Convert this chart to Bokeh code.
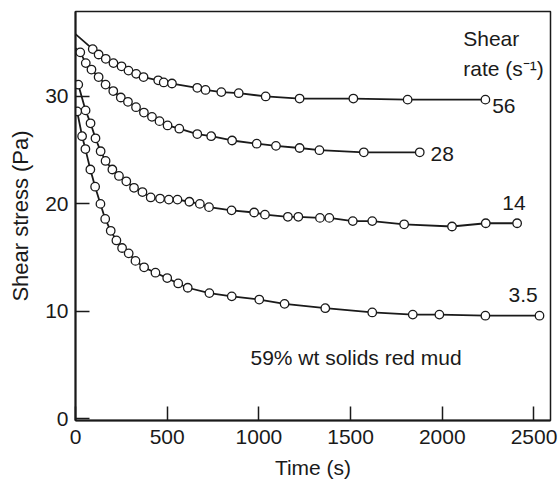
from bokeh.plotting import figure
from bokeh.models import Range1d, FixedTicker, Label
from bokeh.embed import file_html
from bokeh.resources import INLINE

# ---- data (time in s, shear stress in Pa) ----
t_56 = [94, 126, 165, 207, 251, 289, 331, 371, 451, 481, 526, 664, 709, 795, 890, 1037, 1222, 1515, 1811, 2235]
v_56 = [34.4, 33.9, 33.5, 33.1, 32.8, 32.4, 32.1, 31.8, 31.5, 31.3, 31.2, 30.8, 30.6, 30.4, 30.3, 30.0, 29.8, 29.8, 29.7, 29.7]
start_56 = 35.8

t_28 = [26, 56, 87, 126, 164, 206, 247, 286, 330, 373, 417, 458, 502, 566, 664, 740, 854, 988, 1093, 1222, 1330, 1572, 1877]
v_28 = [34.1, 33.1, 32.5, 31.8, 31.1, 30.5, 29.9, 29.5, 29.0, 28.5, 28.1, 27.7, 27.3, 27.0, 26.5, 26.3, 25.9, 25.6, 25.4, 25.2, 25.0, 24.8, 24.8]
start_28 = 34.5

t_14 = [15, 55, 82, 109, 137, 164, 201, 237, 277, 319, 365, 410, 461, 509, 556, 621, 678, 728, 851, 974,
        1033, 1158, 1215, 1333, 1384, 1512, 1618, 1792, 2053, 2237, 2408]
v_14 = [31.1, 28.7, 27.5, 26.1, 24.9, 24.0, 23.2, 22.6, 22.1, 21.5, 21.1, 20.6, 20.5, 20.4, 20.4, 20.2, 20.0, 19.7, 19.4, 19.2,
        19.0, 18.8, 18.8, 18.7, 18.7, 18.4, 18.4, 18.1, 17.9, 18.2, 18.2]

t_35 = [9, 36, 54, 81, 107, 136, 162, 192, 223, 254, 290, 327, 374, 436, 500, 560, 612, 730, 852, 1002,
        1140, 1362, 1618, 1839, 1984, 2235, 2530]
v_35 = [28.6, 26.3, 25.1, 23.2, 21.6, 20.0, 18.6, 17.5, 16.6, 15.9, 15.4, 14.7, 14.1, 13.6, 13.1, 12.6, 12.2, 11.7, 11.4, 11.1,
        10.7, 10.3, 9.9, 9.7, 9.7, 9.6, 9.6]

x_ticks = [0, 500, 1000, 1500, 2000, 2500]
y_ticks = [0, 10, 20, 30]
rate_labels = ["56", "28", "14", "3.5"]

INK = "#1a1a1a"
FONT = "Liberation Sans"

p = figure(width=560, height=489, output_backend="svg", toolbar_location=None,
           x_range=Range1d(0, 2590), y_range=Range1d(-0.15, 37.9),
           min_border_left=75, min_border_right=10, min_border_top=11, min_border_bottom=69)
p.background_fill_color = "white"
p.border_fill_color = "white"
p.outline_line_color = INK
p.outline_line_width = 1.5
p.xgrid.visible = False
p.ygrid.visible = False

p.xaxis.ticker = FixedTicker(ticks=x_ticks)
p.yaxis.ticker = FixedTicker(ticks=y_ticks)
for ax in (p.xaxis, p.yaxis):
    ax.major_tick_in = 14
    ax.major_tick_out = 0
    ax.minor_tick_line_color = None
    ax.axis_line_width = 2
    ax.axis_line_color = INK
    ax.major_tick_line_width = 1.5
    ax.major_tick_line_color = INK
    ax.major_label_text_font = FONT
    ax.major_label_text_font_size = "21px"
    ax.major_label_text_color = INK
    ax.axis_label_text_font = FONT
    ax.axis_label_text_font_style = "normal"
    ax.axis_label_text_color = INK
p.xaxis.major_label_standoff = 9
p.yaxis.major_label_standoff = 7
p.xaxis.axis_label = "Time (s)"
p.yaxis.axis_label = "Shear stress (Pa)"
p.xaxis.axis_label_text_font_size = "21px"
p.yaxis.axis_label_text_font_size = "22px"
p.xaxis.axis_label_standoff = 9
p.yaxis.axis_label_standoff = 9

series = [
    ([0] + t_56, [start_56] + v_56, t_56, v_56),
    ([0] + t_28, [start_28] + v_28, t_28, v_28),
    (t_14, v_14, t_14, v_14),
    (t_35, v_35, t_35, v_35),
]
for lx, ly, mx, my in series:
    p.line(lx, ly, line_color=INK, line_width=1.8)
for lx, ly, mx, my in series:
    p.scatter(mx, my, size=8.5, marker="circle", fill_color="white",
              line_color=INK, line_width=1.3)

def add_text(x, y, txt, align="left"):
    p.add_layout(Label(x=x, y=y, text=txt, text_font=FONT, text_font_size="21px",
                       text_color=INK, text_align=align, text_baseline="middle"))

add_text(2114, 35.4, "Shear")
add_text(2114, 32.6, "rate (s\u207b\u00b9)")
add_text(2272, 29.15, rate_labels[0])
add_text(1936, 24.6, rate_labels[1])
add_text(2327, 20.1, rate_labels[2])
add_text(2361, 11.5, rate_labels[3])
add_text(954, 5.67, "59% wt solids red mud")

open("out.html", "w").write(file_html(p, INLINE))
